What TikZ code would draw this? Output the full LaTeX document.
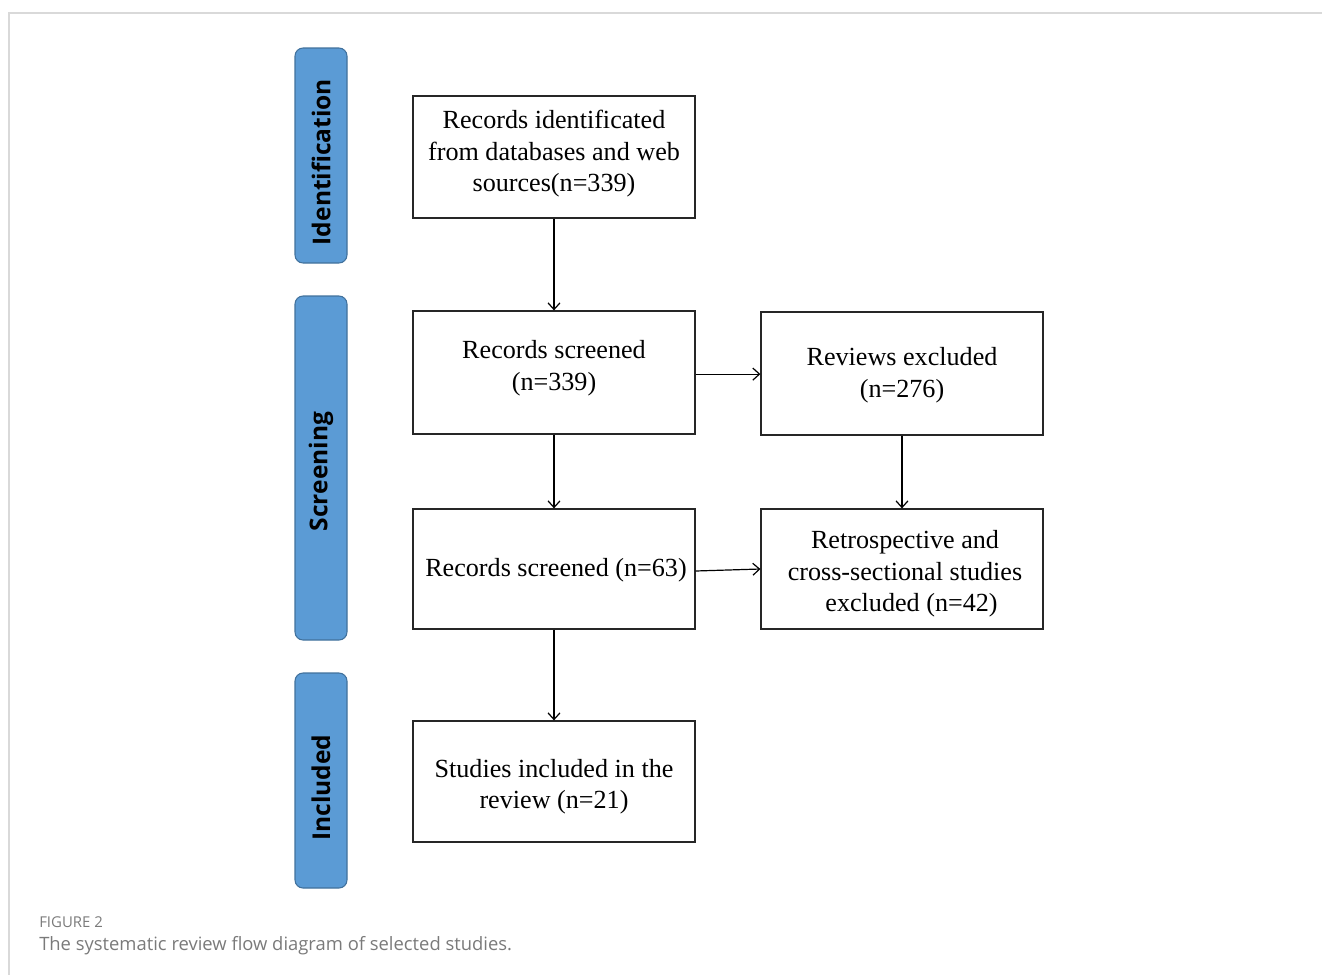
\documentclass[tikz,border=0pt]{standalone}
\usepackage{fontspec}
\setmainfont{Liberation Serif}
\newfontfamily\labelfont{Open Sans}
\usetikzlibrary{arrows.meta}
\definecolor{barfill}{HTML}{5B9BD5}
\definecolor{barline}{HTML}{41719C}
\definecolor{framegray}{HTML}{D9D9D9}
\definecolor{capgray}{HTML}{7A7A7A}
\begin{document}
\begin{tikzpicture}[x=0.75pt,y=-0.75pt,
  flowbox/.style={draw=black!85,line width=0.9pt,minimum width=211.5pt,inner sep=0pt},
  flowtext/.style={align=center,inner sep=0pt,font=\fontsize{19.6}{23.6}\selectfont},
  phasebar/.style={draw=barline,line width=0.8pt,fill=barfill,rounded corners=6pt,rotate=90,minimum height=39pt,inner sep=0pt},
  phasetext/.style={rotate=90,inner sep=0pt,font=\labelfont\bfseries\fontsize{18.4}{20}\selectfont},
  flowarrow/.style={line width=0.9pt,-{Straight Barb[length=5pt,width=9pt]}}]
\useasboundingbox (0,0) rectangle (1322,975);
\draw[framegray,line width=1pt] (1322,13) -- (9,13) -- (9,975);
% phase bars
\node[phasebar,minimum width=161.25pt] (ident) at (321,155.5) {};
\node[phasebar,minimum width=258pt] (screen) at (321,468) {};
\node[phasebar,minimum width=161.25pt] (incl) at (321,780.5) {};
\node[phasetext] (identlabel) at (321,162) {Identification};
\node[phasetext] (screenlabel) at (321,471.5) {Screening};
\node[phasetext] (incllabel) at (321,787.5) {Included};
% boxes
\node[flowbox,minimum height=91.5pt] (b1) at (554,157) {};
\node[flowbox,minimum height=92.25pt] (b2) at (554,372.5) {};
\node[flowbox,minimum height=92.25pt] (b3) at (902,373.5) {};
\node[flowbox,minimum height=90pt] (b4) at (554,569) {};
\node[flowbox,minimum height=90pt] (b5) at (902,569) {};
\node[flowbox,minimum height=90.75pt] (b6) at (554,781.5) {};
% box texts
\node[flowtext] (t1) at (554,154) {Records identificated\\from databases and web\\sources(n=339)};
\node[flowtext] (t2) at (554,368) {Records screened\\(n=339)};
\node[flowtext] (t3) at (902,375) {Reviews excluded\\(n=276)};
\node[flowtext] (t4) at (556,570) {Records screened (n=63)};
\node[flowtext] (t5) at (905,574) {Retrospective and\\cross-sectional studies\\\hspace*{0.5em}excluded (n=42)};
\node[flowtext] (t6) at (554,786.5) {Studies included in the\\review (n=21)};
% arrows
\draw[flowarrow] (b1) -- (b2);
\draw[flowarrow] ([yshift=-1.2pt]b2.east) -- ([yshift=-1.2pt]b2.east -| b3.west);
\draw[flowarrow] (b2) -- (b4);
\draw[flowarrow] (b3) -- (b5);
\draw[flowarrow] ([yshift=-1.5pt]b4.east) -- (b5.west);
\draw[flowarrow] (b4) -- (b6);
% caption
\node[anchor=base west,inner sep=0pt,text=capgray,font=\labelfont\fontsize{11.2}{13}\selectfont] (figlabel) at (39,927) {FIGURE 2};
\node[anchor=base west,inner sep=0pt,text=capgray,font=\labelfont\fontsize{13.8}{16}\selectfont] (caption) at (39,950) {The systematic review flow diagram of selected studies.};
\end{tikzpicture}
\end{document}
